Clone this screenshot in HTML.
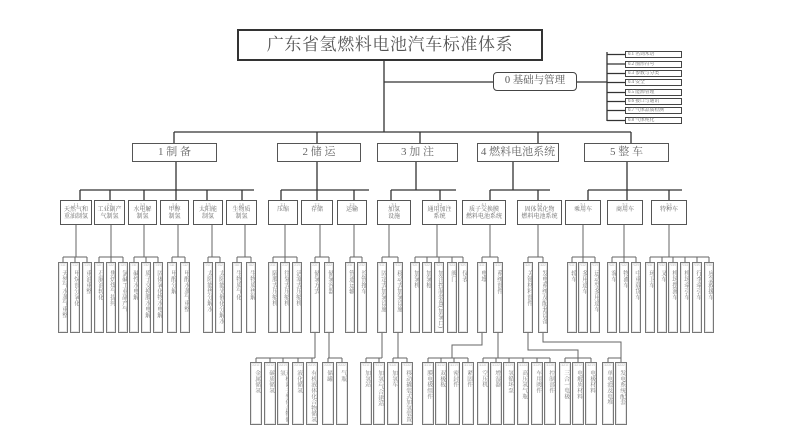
<!DOCTYPE html>
<html><head><meta charset="utf-8">
<style>
html,body{margin:0;padding:0;background:#fff;}
body{width:801px;height:429px;position:relative;overflow:hidden;font-family:"Liberation Serif","Noto Serif CJK SC",serif;color:#444;}
svg{position:absolute;left:0;top:0;}
.t{position:absolute;left:237px;top:29px;width:306px;height:32px;border:2px solid #333;box-sizing:border-box;text-align:center;font-size:17px;line-height:28px;letter-spacing:0.6px;color:#555;background:#fff;}
.z{position:absolute;left:493px;top:72px;width:84px;height:19px;border:1.5px solid #444;border-radius:4px;box-sizing:border-box;text-align:center;font-size:10.5px;line-height:16px;background:#fff;color:#555;}
.o{position:absolute;left:625px;width:57px;height:7px;border:1px solid #444;box-sizing:border-box;font-size:4.8px;line-height:5px;padding-left:2px;white-space:nowrap;background:#fff;color:#666;}
.p{position:absolute;top:143px;height:19px;border:1.3px solid #555;box-sizing:border-box;text-align:center;font-size:11px;line-height:16px;background:#fff;color:#666;white-space:nowrap;}
.s{position:absolute;top:200px;height:25px;border:1.3px solid #555;box-sizing:border-box;text-align:center;font-size:6px;line-height:6.5px;background:#fff;color:#666;white-space:nowrap;padding-top:1px;}
.s i{display:block;font-style:normal;font-size:4px;line-height:5px;color:#888;}
.c,.d{position:absolute;border:1px solid #777;box-sizing:border-box;background:#fff;box-shadow:inset 0 0 0 1px #e6e6e6;overflow:hidden;}
.c{top:262px;width:10px;height:71px;}
.d{top:362px;width:12px;height:63px;}
.c i,.d i{display:block;font-style:normal;font-size:2.6px;line-height:4px;text-align:center;color:#999;margin-top:1px;white-space:nowrap;}
.c b,.d b{display:block;font-weight:normal;writing-mode:vertical-rl;color:#777;margin:2px auto 0;}
.c b{font-size:6px;line-height:7.5px;height:62px;}
.d b{font-size:5.8px;line-height:5.4px;height:54px;}
</style></head><body>
<svg width="801" height="429" viewBox="0 0 801 429">
<g stroke="#333" stroke-width="1.3" fill="none">
<path d="M384 61V132M384 82H493M174 132H631M577 82H607M607 52V121"/>
<path d="M607 54.5H625M607 64H625M607 73.5H625M607 82.5H625M607 92.5H625M607 101.5H625M607 110.5H625M607 120.5H625"/>
<path d="M174 132V143M317 132V143M420 132V143M538 132V143M631 132V143"/>
<path d="M176 162V190M317 162V190M416 162V190M513 162V190M627 162V190"/>
<path d="M80 190H254M281 190H369M391 190H456M490 190H550M588 190H682"/>
<path d="M80 190V200M110 190V200M144 190V200M176 190V200M207 190V200M242 190V200M281 190V200M317 190V200M354 190V200M391 190V200M440 190V200M490 190V200M538 190V200M588 190V200M627 190V200M669 190V200"/>
</g>
<g stroke="#666" stroke-width="1" fill="none">
<path d="M76 225V257M111 225V257M144 225V257M178 225V257M212 225V257M245 225V257M285 225V257M320 225V257M354 225V257M389 225V257M437 225V257M490 225V257M538 225V257M583 225V257M624 225V257M669 225V257"/>
<path d="M63 257H87M99 257H123M134 257H158M172 257H185M208 257H220M237 257H251M273 257H297M315 257H329M350 257H362M382 257H398M415 257H463M482 257H498M528 257H543M572 257H595M612 257H636M650 257H709"/>
<path d="M63 257V262M75 257V262M87 257V262M99 257V262M111 257V262M123 257V262M134 257V262M146 257V262M158 257V262M172 257V262M185 257V262M208 257V262M220 257V262M237 257V262M251 257V262M273 257V262M285 257V262M297 257V262M315 257V262M329 257V262M350 257V262M362 257V262M382 257V262M398 257V262M415 257V262M427 257V262M439 257V262M452 257V262M463 257V262M482 257V262M498 257V262M528 257V262M543 257V262M572 257V262M583 257V262M595 257V262M612 257V262M624 257V262M636 257V262M650 257V262M662 257V262M673 257V262M685 257V262M697 257V262M709 257V262"/>
<path d="M315 333V358M329 333V358M382 333V358M398 333V358M482 333V345H452V358M498 333V358M528 333V350H578V358M543 333V342H621V358"/>
<path d="M256 358H315M328 358H342M366 358H382M393 358H407M428 358H468M483 358H550M565 358H591M608 358H621"/>
<path d="M256 358V362M270 358V362M283 358V362M298 358V362M312 358V362M328 358V362M342 358V362M366 358V362M379 358V362M393 358V362M407 358V362M428 358V362M441 358V362M454 358V362M468 358V362M483 358V362M496 358V362M509 358V362M523 358V362M537 358V362M550 358V362M565 358V362M578 358V362M591 358V362M608 358V362M621 358V362"/>
</g>
</svg>

<div class="t">广东省氢燃料电池汽车标准体系</div>
<div class="z">0 基础与管理</div>
<div class="o" style="top:51px">0.1 名词术语</div>
<div class="o" style="top:60.5px">0.2 图形符号</div>
<div class="o" style="top:70px">0.3 参数与分类</div>
<div class="o" style="top:79px">0.4 安全</div>
<div class="o" style="top:89px">0.5 能源管理</div>
<div class="o" style="top:98px">0.6 接口与通讯</div>
<div class="o" style="top:107px">0.7 气体品质检测</div>
<div class="o" style="top:117px">0.8 气体纯化</div>

<div class="p" style="left:132px;width:85px">1 制 备</div>
<div class="p" style="left:277px;width:84px">2 储 运</div>
<div class="p" style="left:377px;width:81px">3 加 注</div>
<div class="p" style="left:477px;width:82px">4 燃料电池系统</div>
<div class="p" style="left:584px;width:85px">5 整 车</div>

<div class="s" style="left:60px;width:32px"><i>1.1</i>天然气和<br>重油制氢</div>
<div class="s" style="left:94px;width:31px"><i>1.2</i>工业副产<br>气制氢</div>
<div class="s" style="left:128px;width:29px"><i>1.3</i>水电解<br>制氢</div>
<div class="s" style="left:160px;width:29px"><i>1.4</i>甲醇<br>制氢</div>
<div class="s" style="left:193px;width:30px"><i>1.5</i>太阳能<br>制氢</div>
<div class="s" style="left:226px;width:31px"><i>1.6</i>生物质<br>制氢</div>
<div class="s" style="left:268px;width:30px"><i>2.1</i>压缩</div>
<div class="s" style="left:301px;width:32px"><i>2.2</i>存储</div>
<div class="s" style="left:337px;width:30px"><i>2.3</i>运输</div>
<div class="s" style="left:377px;width:34px"><i>3.1</i>加氢<br>设施</div>
<div class="s" style="left:422px;width:35px"><i>3.2</i>通用加注<br>系统</div>
<div class="s" style="left:462px;width:44px"><i>4.1</i>质子交换膜<br>燃料电池系统</div>
<div class="s" style="left:517px;width:45px"><i>4.2</i>固体氧化物<br>燃料电池系统</div>
<div class="s" style="left:565px;width:36px"><i>5.1</i>乘用车</div>
<div class="s" style="left:607px;width:36px"><i>5.2</i>商用车</div>
<div class="s" style="left:651px;width:36px"><i>5.3</i>特种车</div>

<div class="c" style="left:58px"><i>1.1.1</i><b>天然气水蒸气重整</b></div>
<div class="c" style="left:70px"><i>1.1.2</i><b>甲烷部分氧化</b></div>
<div class="c" style="left:82px"><i>1.1.3</i><b>重油重整</b></div>
<div class="c" style="left:94px"><i>1.2.1</i><b>石脑油转化</b></div>
<div class="c" style="left:106px"><i>1.2.2</i><b>焦炉煤气提纯</b></div>
<div class="c" style="left:118px"><i>1.2.3</i><b>氯碱工业副产气</b></div>
<div class="c" style="left:129px"><i>1.3.1</i><b>碱性水电解</b></div>
<div class="c" style="left:141px"><i>1.3.2</i><b>质子交换膜水电解</b></div>
<div class="c" style="left:153px"><i>1.3.3</i><b>固体氧化物水电解</b></div>
<div class="c" style="left:167px"><i>1.4.1</i><b>甲醇分解</b></div>
<div class="c" style="left:180px"><i>1.4.2</i><b>甲醇水蒸气重整</b></div>
<div class="c" style="left:203px"><i>1.5.1</i><b>太阳能热分解水</b></div>
<div class="c" style="left:215px"><i>1.5.2</i><b>太阳能光催化分解水</b></div>
<div class="c" style="left:232px"><i>1.6.1</i><b>生物质气化</b></div>
<div class="c" style="left:246px"><i>1.6.2</i><b>生物质热解</b></div>
<div class="c" style="left:268px"><i>2.1.1</i><b>隔膜式压缩机</b></div>
<div class="c" style="left:280px"><i>2.1.2</i><b>往复式压缩机</b></div>
<div class="c" style="left:292px"><i>2.1.3</i><b>活塞式压缩机</b></div>
<div class="c" style="left:310px"><i>2.2.1</i><b>储氢方式</b></div>
<div class="c" style="left:324px"><i>2.2.2</i><b>储氢容器</b></div>
<div class="c" style="left:345px"><i>2.3.1</i><b>管道运输</b></div>
<div class="c" style="left:357px"><i>2.3.2</i><b>长管拖车</b></div>
<div class="c" style="left:377px"><i>3.1.1</i><b>固定式加氢设施</b></div>
<div class="c" style="left:393px"><i>3.1.2</i><b>移动式加氢设施</b></div>
<div class="c" style="left:410px"><i>3.2.1</i><b>加氢机</b></div>
<div class="c" style="left:422px"><i>3.2.2</i><b>加氢枪</b></div>
<div class="c" style="left:434px"><i>3.2.3</i><b>加注控制装置(加氢口)</b></div>
<div class="c" style="left:447px"><i>3.2.4</i><b>阀门</b></div>
<div class="c" style="left:458px"><i>3.2.5</i><b>仪表</b></div>
<div class="c" style="left:477px"><i>4.1.1</i><b>电堆</b></div>
<div class="c" style="left:493px"><i>4.1.2</i><b>系统部件</b></div>
<div class="c" style="left:523px"><i>4.2.1</i><b>关键材料部件</b></div>
<div class="c" style="left:538px"><i>4.2.2</i><b>发电系统及配套设备</b></div>
<div class="c" style="left:567px"><i>5.1.1</i><b>轿车</b></div>
<div class="c" style="left:578px"><i>5.1.2</i><b>多用途车</b></div>
<div class="c" style="left:590px"><i>5.1.3</i><b>运动型多用途车</b></div>
<div class="c" style="left:607px"><i>5.2.1</i><b>客车</b></div>
<div class="c" style="left:619px"><i>5.2.2</i><b>物流车</b></div>
<div class="c" style="left:631px"><i>5.2.3</i><b>中重载货车</b></div>
<div class="c" style="left:645px"><i>5.3.1</i><b>环卫车</b></div>
<div class="c" style="left:657px"><i>5.3.2</i><b>叉车</b></div>
<div class="c" style="left:668px"><i>5.3.3</i><b>机场摆渡车</b></div>
<div class="c" style="left:680px"><i>5.3.4</i><b>机场牵引车</b></div>
<div class="c" style="left:692px"><i>5.3.5</i><b>行李牵引车</b></div>
<div class="c" style="left:704px"><i>5.3.6</i><b>应急救援车</b></div>

<div class="d" style="left:250px"><i>2.2.1.1</i><b>金属储氢</b></div>
<div class="d" style="left:264px"><i>2.2.1.2</i><b>碳质储氢</b></div>
<div class="d" style="left:277px"><i>2.2.1.3</i><b>无机离子型化合物储氢</b></div>
<div class="d" style="left:292px"><i>2.2.1.4</i><b>液化储氢</b></div>
<div class="d" style="left:306px"><i>2.2.1.5</i><b>有机液体化合物储氢</b></div>
<div class="d" style="left:322px"><i>2.2.2.1</i><b>储罐</b></div>
<div class="d" style="left:336px"><i>2.2.2.2</i><b>气瓶</b></div>
<div class="d" style="left:360px"><i>3.1.1.1</i><b>加氢站</b></div>
<div class="d" style="left:373px"><i>3.1.1.2</i><b>加氢/气合建站</b></div>
<div class="d" style="left:387px"><i>3.1.2.1</i><b>加氢车</b></div>
<div class="d" style="left:401px"><i>3.1.2.2</i><b>移动撬装式加氢装置</b></div>
<div class="d" style="left:422px"><i>4.1.1.1</i><b>膜电极组件</b></div>
<div class="d" style="left:435px"><i>4.1.1.2</i><b>双极板</b></div>
<div class="d" style="left:448px"><i>4.1.1.3</i><b>密封件</b></div>
<div class="d" style="left:462px"><i>4.1.1.4</i><b>紧固件</b></div>
<div class="d" style="left:477px"><i>4.1.2.1</i><b>空压机</b></div>
<div class="d" style="left:490px"><i>4.1.2.2</i><b>增湿器</b></div>
<div class="d" style="left:503px"><i>4.1.2.3</i><b>氢循环泵</b></div>
<div class="d" style="left:517px"><i>4.1.2.4</i><b>高压氢气瓶</b></div>
<div class="d" style="left:531px"><i>4.1.2.5</i><b>车用阀件</b></div>
<div class="d" style="left:544px"><i>4.1.2.6</i><b>控制部件</b></div>
<div class="d" style="left:559px"><i>4.2.1.1</i><b>三合一电极</b></div>
<div class="d" style="left:572px"><i>4.2.1.2</i><b>电解质材料</b></div>
<div class="d" style="left:585px"><i>4.2.1.3</i><b>电极材料</b></div>
<div class="d" style="left:602px"><i>4.2.2.1</i><b>单电池及电堆</b></div>
<div class="d" style="left:615px"><i>4.2.2.2</i><b>发电系统配套</b></div>
</body></html>
